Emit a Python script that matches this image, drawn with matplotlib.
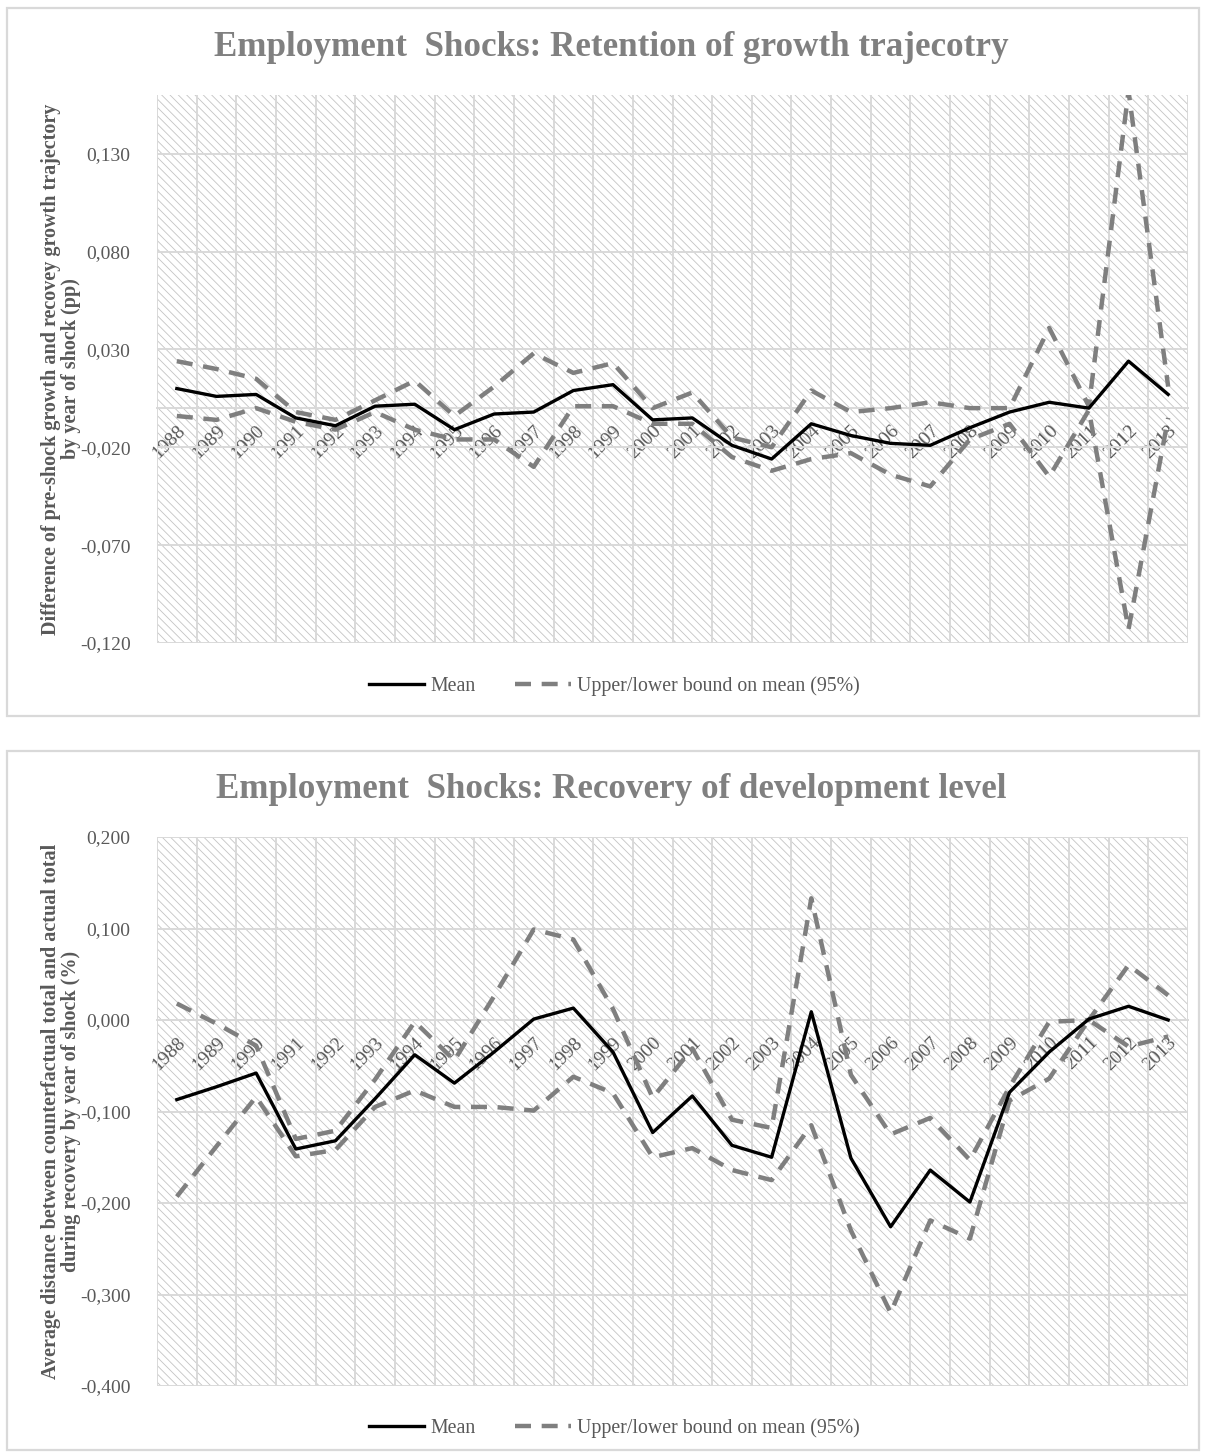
import numpy as np
import matplotlib
matplotlib.use('Agg')
import matplotlib.pyplot as plt
from matplotlib.patches import Rectangle
from matplotlib.lines import Line2D
from matplotlib.ticker import FixedLocator, FuncFormatter

plt.rcParams['font.family'] = ['Liberation Serif', 'DejaVu Serif']
plt.rcParams['hatch.linewidth'] = 0.6

years = [str(y) for y in range(1988, 2014)]

# chart 1: retention of growth trajectory
mean_1 = [0.010, 0.006, 0.007, -0.005, -0.009, 0.001, 0.002, -0.011, -0.003, -0.002,
          0.009, 0.012, -0.006, -0.005, -0.019, -0.026, -0.008, -0.014, -0.018, -0.019,
          -0.010, -0.002, 0.003, 0.000, 0.024, 0.007]
upper_1 = [0.024, 0.020, 0.015, -0.002, -0.006, 0.004, 0.014, -0.004, 0.011, 0.028,
           0.018, 0.023, 0.000, 0.008, -0.015, -0.020, 0.009, -0.002, 0.000, 0.003,
           0.000, 0.000, 0.041, 0.001, 0.162, 0.011]
lower_1 = [-0.004, -0.006, 0.000, -0.007, -0.011, -0.002, -0.011, -0.016, -0.016, -0.030,
           0.001, 0.001, -0.008, -0.008, -0.025, -0.032, -0.026, -0.023, -0.034, -0.040,
           -0.016, -0.008, -0.035, -0.001, -0.113, -0.005]

# chart 2: recovery of development level
mean_2 = [-0.087, -0.073, -0.058, -0.141, -0.132, -0.086, -0.038, -0.069, -0.035, 0.001,
          0.013, -0.035, -0.123, -0.083, -0.137, -0.150, 0.009, -0.151, -0.226, -0.164,
          -0.199, -0.079, -0.035, 0.001, 0.015, 0.000]
upper_2 = [0.018, -0.004, -0.028, -0.130, -0.121, -0.065, -0.002, -0.044, 0.026, 0.099,
           0.088, 0.012, -0.085, -0.031, -0.109, -0.118, 0.133, -0.060, -0.125, -0.107,
           -0.153, -0.073, -0.002, 0.000, 0.060, 0.027]
lower_2 = [-0.193, -0.138, -0.084, -0.149, -0.142, -0.095, -0.077, -0.095, -0.095, -0.099,
           -0.062, -0.080, -0.150, -0.140, -0.164, -0.175, -0.115, -0.230, -0.320, -0.219,
           -0.239, -0.088, -0.064, 0.000, -0.029, -0.018]

title_1 = 'Employment  Shocks: Retention of growth trajecotry'
title_2 = 'Employment  Shocks: Recovery of development level'
ylab_1 = 'Difference of pre-shock growth and recovey growth trajectory\nby year of shock (pp)'
ylab_2 = 'Average distance between counterfactual total and actual total\nduring recovery by year of shock (%)'

GRID = '#d9d9d9'
TXT = '#595959'
DASH = '#7f7f7f'
DASHES = (3.6, 2.4)

fig = plt.figure(figsize=(12.06, 14.52), dpi=100)
W, H = 1206, 1452


def fx(px):
    return px / W


def fy(py):
    return 1 - py / H


def fmt(v, p):
    if abs(v) < 1e-9:
        v = 0.0
    return f'{v:.3f}'.replace('.', ',')


# chart borders
for top, bot in [(8, 716), (751, 1450)]:
    fig.patches.append(Rectangle((fx(7), fy(bot)), fx(1199) - fx(7), fy(top) - fy(bot),
                                 transform=fig.transFigure, fill=False,
                                 edgecolor=GRID, lw=1.6))


def draw(ax_box, mean, upper, lower, ylim, yticks, title, ylab, title_y, leg_y):
    left, top, right, bottom = ax_box
    ax = fig.add_axes([fx(left), fy(bottom), fx(right) - fx(left), fy(top) - fy(bottom)])
    x = np.arange(len(years))
    ax.set_xlim(-0.5, len(years) - 0.5)
    ax.set_ylim(*ylim)

    for s in ['top', 'right', 'left']:
        ax.spines[s].set_visible(False)
    # category axis crosses at zero (this resets ticks, so do it first)
    ax.spines['bottom'].set_position(('data', 0))
    ax.spines['bottom'].set_color(GRID)
    ax.spines['bottom'].set_linewidth(1.4)

    ax.add_patch(Rectangle((0, 0), 1, 1, transform=ax.transAxes, facecolor='white',
                           edgecolor='#c4c4c4', hatch='\\\\\\\\', lw=0, zorder=0))

    ax.yaxis.set_major_locator(FixedLocator(yticks))
    ax.yaxis.set_major_formatter(FuncFormatter(fmt))
    ax.xaxis.set_major_locator(FixedLocator(x))
    ax.xaxis.set_minor_locator(FixedLocator(np.arange(len(years) + 1) - 0.5))
    ax.set_xticklabels(years)
    ax.tick_params(axis='x', which='both', length=0, pad=10, labelsize=14, labelcolor=TXT,
                   labelrotation=45)
    for lab in ax.get_xticklabels():
        lab.set_ha('right')
        lab.set_va('top')
        lab.set_rotation_mode('anchor')
    ax.tick_params(axis='y', length=0, pad=19, labelsize=14, labelcolor=TXT)

    ax.grid(True, axis='y', which='major', color=GRID, lw=1.4, zorder=1)
    ax.grid(True, axis='x', which='minor', color=GRID, lw=1.4, zorder=1)
    ax.grid(False, axis='x', which='major')
    ax.set_axisbelow(True)

    ax.plot(x, upper, color=DASH, lw=3.2, dashes=DASHES, zorder=3)
    ax.plot(x, lower, color=DASH, lw=3.2, dashes=DASHES, zorder=3)
    ax.plot(x, mean, color='black', lw=2.4, zorder=4)

    fig.text(fx(611), fy(title_y), title, ha='center', va='center', fontsize=25.2,
             fontweight='bold', color='#808080')
    ax.set_ylabel(ylab, fontsize=14.5, fontweight='bold', color=TXT, labelpad=-1,
                  linespacing=1.0)

    handles = [Line2D([], [], color='black', lw=2.4),
               Line2D([], [], color=DASH, lw=3.2, dashes=DASHES)]
    fig.legend(handles, ['Mean', 'Upper/lower bound on mean (95%)'], loc='center',
               bbox_to_anchor=(fx(614), fy(leg_y)), ncol=2, frameon=False,
               fontsize=14.3, labelcolor=TXT, handlelength=2.8, columnspacing=2.0,
               handletextpad=0.3)
    return ax


draw((157, 95, 1188, 643), mean_1, upper_1, lower_1, (-0.12, 0.16),
     np.arange(-0.12, 0.131, 0.05), title_1, ylab_1, 48, 686)
draw((157, 837, 1188, 1386), mean_2, upper_2, lower_2, (-0.4, 0.2),
     np.arange(-0.4, 0.201, 0.1), title_2, ylab_2, 790, 1428)

fig.savefig('out.png', dpi=100)
